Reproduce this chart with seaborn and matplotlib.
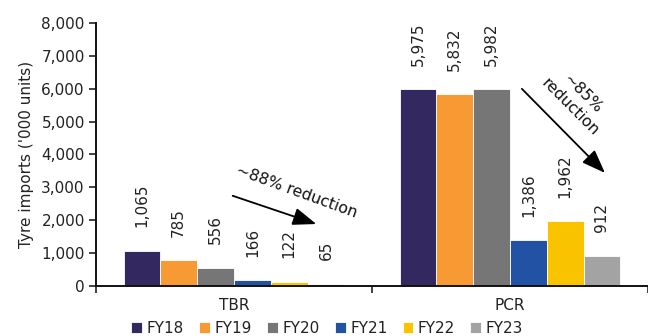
import matplotlib
matplotlib.use("Agg")
import matplotlib.pyplot as plt
import seaborn as sns
import pandas as pd
from matplotlib.ticker import FuncFormatter, FixedLocator

segments = ["TBR", "PCR"]
years = ["FY18", "FY19", "FY20", "FY21", "FY22", "FY23"]
tbr = [1065, 785, 556, 166, 122, 65]
pcr = [5975, 5832, 5982, 1386, 1962, 912]
colors = ["#332960", "#F79A33", "#767676", "#2152A3", "#F9C300", "#A3A3A3"]

rows = []
for seg, vals in zip(segments, [tbr, pcr]):
    for yr, v in zip(years, vals):
        rows.append({"segment": seg, "year": yr, "value": v})
df = pd.DataFrame(rows)

sns.set_theme(style="white")
plt.rcParams["font.family"] = ["DejaVu Sans"]
FS = 11

fig = plt.figure(figsize=(6.48, 3.36), dpi=100)
ax = fig.add_axes([0.148, 0.149, 0.852, 0.783])

sns.barplot(data=df, x="segment", y="value", hue="year", order=segments,
            hue_order=years, palette=colors, saturation=1, width=0.8, ax=ax,
            edgecolor="white", linewidth=0.6, legend=True)

ax.set_xlim(-0.5, 1.5)
ax.set_ylim(0, 8000)
ax.set_yticks(range(0, 8001, 1000))
ax.yaxis.set_major_formatter(FuncFormatter(lambda v, p: f"{int(v):,}"))
ax.tick_params(axis="y", labelsize=FS, length=5, width=1.2, direction="out",
               left=True, colors="#222222", pad=3)
ax.tick_params(axis="x", which="major", length=0, labelsize=FS, pad=9,
               colors="#222222")
ax.xaxis.set_minor_locator(FixedLocator([-0.5, 0.5, 1.5]))
ax.tick_params(axis="x", which="minor", length=5, width=1.2, bottom=True,
               color="#222222")
ax.set_xlabel("")
ax.set_ylabel("Tyre imports ('000 units)", fontsize=FS, color="#222222",
              labelpad=5)

for s in ["top", "right"]:
    ax.spines[s].set_visible(False)
for s in ["left", "bottom"]:
    ax.spines[s].set_color("#111111")
    ax.spines[s].set_linewidth(1.4)

# value labels, rotated, above each bar
for container in ax.containers:
    ax.bar_label(container, labels=[f"{int(b.get_height()):,}" for b in container],
                 rotation=90, padding=17, fontsize=FS, color="#222222")

# trend arrows and notes
arrow_style = dict(arrowstyle="-|>,head_length=1.2,head_width=0.45",
                   color="black", lw=1.3)
ax.annotate("", xy=(0.308, 1856), xytext=(-0.014, 2768), arrowprops=arrow_style)
ax.text(0.228, 2880, "~88% reduction", rotation=-20, ha="center", va="center",
        fontsize=FS + 0.3, color="#111111", rotation_mode="anchor")
ax.annotate("", xy=(1.351, 3377), xytext=(1.036, 6054), arrowprops=arrow_style)
ax.text(1.24, 5640, "~85%\nreduction", rotation=-45, ha="center", va="center",
        fontsize=FS + 0.3, color="#111111", rotation_mode="anchor",
        multialignment="center", linespacing=1.25)

handles, labels = ax.get_legend_handles_labels()
ax.get_legend().remove()
fig.legend(handles, labels, loc="lower center", bbox_to_anchor=(0.505, -0.04),
           ncol=6, frameon=False, fontsize=FS, handlelength=0.7,
           handleheight=0.7, handletextpad=0.3, columnspacing=1.0,
           labelcolor="#222222")

fig.savefig("out.png", dpi=100)
